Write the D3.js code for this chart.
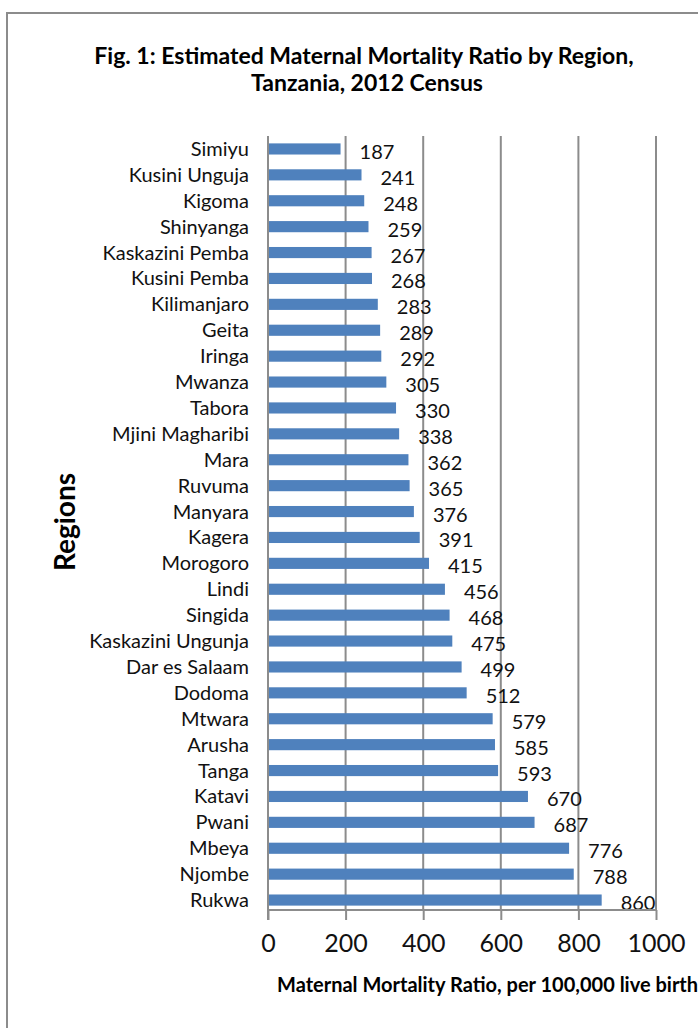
<!doctype html>
<html>
  <head>
    <script src="https://cdnjs.cloudflare.com/ajax/libs/d3/7.8.5/d3.min.js"></script>
    <style>
      body { margin: 0; background: #fff; }
      svg text { font-family: Lato, "Open Sans", sans-serif; }
      .grid line { stroke: #8c8c8c; stroke-width: 2; }
      .bar { fill: #4f81bd; }
      .cat { font-size: 20px; fill: #111; }
      .val { font-size: 20px; fill: #111; }
      .tick text { font-size: 25px; fill: #111; }
    </style>
  </head>
  <body>
    <svg width="698" height="1028"></svg>
    <script>
      // regions top to bottom, as in the figure
      var regions = ["Simiyu", "Kusini Unguja", "Kigoma", "Shinyanga", "Kaskazini Pemba",
        "Kusini Pemba", "Kilimanjaro", "Geita", "Iringa", "Mwanza", "Tabora",
        "Mjini Magharibi", "Mara", "Ruvuma", "Manyara", "Kagera", "Morogoro", "Lindi",
        "Singida", "Kaskazini Ungunja", "Dar es Salaam", "Dodoma", "Mtwara", "Arusha",
        "Tanga", "Katavi", "Pwani", "Mbeya", "Njombe", "Rukwa"];
      var mmr = [187, 241, 248, 259, 267, 268, 283, 289, 292, 305, 330, 338, 362, 365,
        376, 391, 415, 456, 468, 475, 499, 512, 579, 585, 593, 670, 687, 776, 788, 860];
      var xTicks = [0, 200, 400, 600, 800, 1000];

      var svg = d3.select("svg");

      // outer frame (right/bottom edges fall outside the picture)
      svg.append("rect").attr("x", 7).attr("y", 13).attr("width", 740).attr("height", 1040)
        .attr("fill", "none").attr("stroke", "#8c8c8c").attr("stroke-width", 2);

      svg.append("text").attr("x", 364).attr("y", 64).attr("text-anchor", "middle")
        .style("font-size", "23px").style("font-weight", "bold")
        .text("Fig. 1: Estimated Maternal Mortality Ratio by Region,");
      svg.append("text").attr("x", 367).attr("y", 91).attr("text-anchor", "middle")
        .style("font-size", "23px").style("font-weight", "bold")
        .text("Tanzania, 2012 Census");

      var plotTop = 136, plotBottom = 910;
      var x = d3.scaleLinear().domain([0, 1000]).range([268, 656]);
      var y = d3.scaleBand().domain(regions).range([plotTop, plotBottom + 3])
        .paddingInner(0.57).paddingOuter(0.285);

      // gridlines
      svg.append("g").attr("class", "grid").selectAll("line").data(xTicks.slice(1)).enter()
        .append("line")
        .attr("x1", d => x(d)).attr("x2", d => x(d))
        .attr("y1", plotTop).attr("y2", plotBottom);

      svg.selectAll("rect.bar").data(mmr).enter().append("rect")
        .attr("class", "bar")
        .attr("x", x(0))
        .attr("y", (d, i) => y(regions[i]))
        .attr("width", d => x(d) - x(0))
        .attr("height", y.bandwidth());

      svg.selectAll("text.val").data(mmr).enter().append("text")
        .attr("class", "val")
        .attr("x", d => x(d) + 19)
        .attr("y", (d, i) => y(regions[i]) + y.bandwidth() / 2 + 10)
        .text(d => d);

      svg.selectAll("text.cat").data(regions).enter().append("text")
        .attr("class", "cat")
        .attr("x", 249)
        .attr("y", d => y(d) + y.bandwidth() / 2 + 7)
        .attr("text-anchor", "end")
        .text(d => d);

      // x axis
      var xAxis = d3.axisBottom(x).tickValues(xTicks).tickFormat(d3.format("d"))
        .tickSize(10).tickPadding(14);
      var gx = svg.append("g").attr("transform", "translate(0," + plotBottom + ")")
        .attr("font-family", null).attr("font-size", null).call(xAxis);
      gx.select(".domain").attr("stroke", "#8c8c8c").attr("stroke-width", 2).attr("d", "M268,0H656");
      gx.selectAll(".tick line").attr("stroke", "#8c8c8c").attr("stroke-width", 2);

      // y axis line
      svg.append("line").attr("x1", x(0)).attr("x2", x(0)).attr("y1", plotTop).attr("y2", plotBottom + 10)
        .attr("stroke", "#8c8c8c").attr("stroke-width", 2);

      svg.append("text").attr("x", 277).attr("y", 992)
        .style("font-size", "20px").style("font-weight", "bold")
        .text("Maternal Mortality Ratio, per 100,000 live births");

      svg.append("text").attr("transform", "translate(75,522) rotate(-90)")
        .attr("text-anchor", "middle")
        .style("font-size", "28px").style("font-weight", "bold")
        .text("Regions");
    </script>
  </body>
</html>
